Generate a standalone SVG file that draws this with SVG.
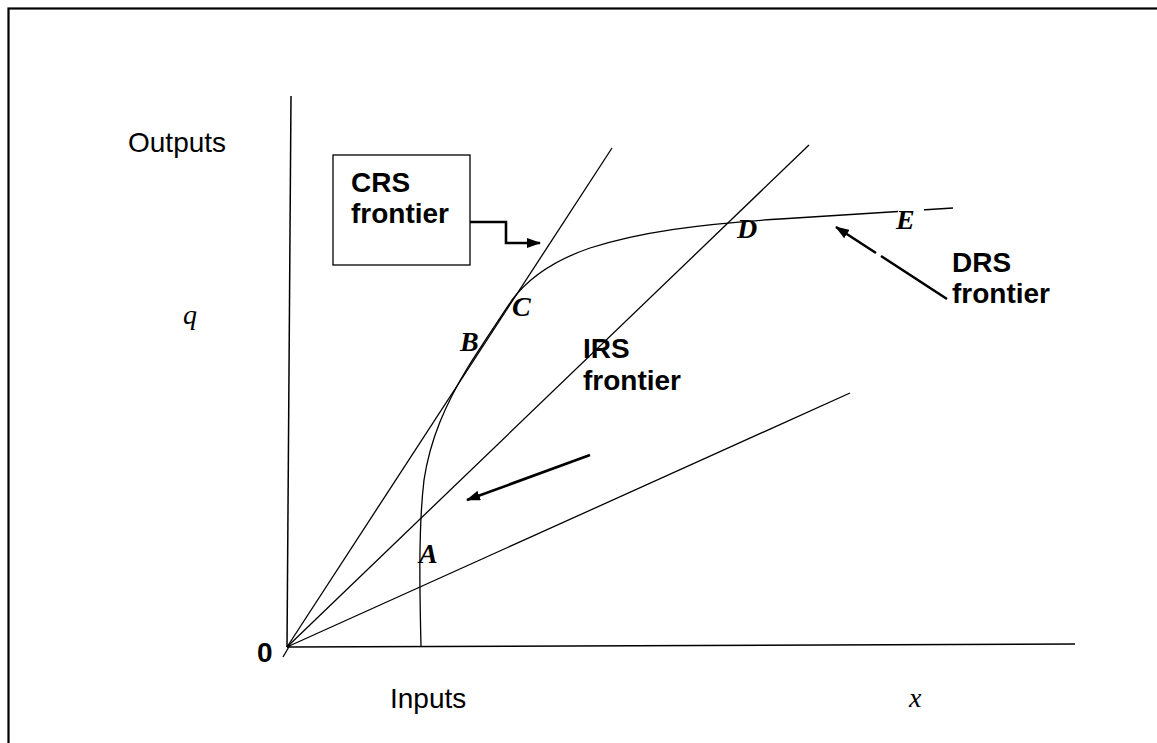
<svg xmlns="http://www.w3.org/2000/svg" width="1157" height="743" viewBox="0 0 1157 743">
<defs>
<marker id="ah" markerWidth="14" markerHeight="10" refX="13" refY="5" orient="auto" markerUnits="userSpaceOnUse">
<path d="M0,0 L14,5 L0,10 Z" fill="#000"/>
</marker>
<style>
.ln{fill:none;stroke:#000;stroke-width:1.3}
.ax{fill:none;stroke:#000;stroke-width:1.5}
.ar{fill:none;stroke:#000;stroke-width:2.6}
.lab{font-family:"Liberation Sans",Arial,sans-serif;font-size:28px;fill:#000}
.b{font-weight:bold}
.m{font-family:"Liberation Serif","DejaVu Serif",serif;font-style:italic;font-size:28px;fill:#000}
.mb{font-family:"Liberation Serif","DejaVu Serif",serif;font-style:italic;font-weight:bold;font-size:28px;fill:#000}
</style>
</defs>
<rect x="8.5" y="8.5" width="1200" height="800" fill="#fff" stroke="#000" stroke-width="2.2"/>
<g id="axes">
<line class="ax" x1="287" y1="647" x2="291" y2="96"/>
<line class="ax" x1="287" y1="647" x2="1075" y2="644"/>
<line class="ln" x1="283" y1="657" x2="290" y2="645"/>
</g>
<g id="connectors">
<line id="crs-line" class="ln" x1="287" y1="647" x2="612" y2="148"/>
<line id="mid-line" class="ln" x1="287" y1="647" x2="809" y2="145"/>
<line id="low-line" class="ln" x1="287" y1="647" x2="850" y2="393"/>
<path id="frontier" class="ln" d="M421,647 C420,600 418,530 424,480 C430,440 445,405 468,367 C484,342 498,321 512,300 C530,276 555,260 590,248 C640,232 700,224 780,219 C840,215 900,211 953,208"/>
<path class="ar" d="M470,222 L506,222 L506,243 L540,243" marker-end="url(#ah)"/>
<path class="ar" d="M947,299 L881,256 M876,253 L836,227" marker-end="url(#ah)"/>
<path class="ar" d="M590,455 L467,500" marker-end="url(#ah)"/>
</g>
<g id="crs-box">
<rect x="333" y="155" width="137" height="110" fill="#fff" stroke="#000" stroke-width="1.3"/>
<text class="lab b" x="351" y="192">CRS</text>
<text class="lab b" x="351" y="223">frontier</text>
</g>
<g id="drs-label">
<text class="lab b" x="952" y="272">DRS</text>
<text class="lab b" x="952" y="303">frontier</text>
</g>
<g id="irs-label">
<text class="lab b" x="583" y="358">IRS</text>
<text class="lab b" x="583" y="390">frontier</text>
</g>
<g id="axis-labels">
<text class="lab" x="128" y="152">Outputs</text>
<text class="lab" x="390" y="708">Inputs</text>
<text class="lab b" x="257" y="662">0</text>
<text class="m" x="183" y="324">q</text>
<text class="m" x="909" y="707">x</text>
</g>
<g id="points">
<text class="mb" x="419" y="563">A</text>
<text class="mb" x="460" y="351">B</text>
<text class="mb" x="512" y="316">C</text>
<text class="mb" x="737" y="238">D</text>
<rect x="898" y="204" width="26" height="12" fill="#fff"/>
<text class="mb" x="896" y="229">E</text>
</g>
</svg>
